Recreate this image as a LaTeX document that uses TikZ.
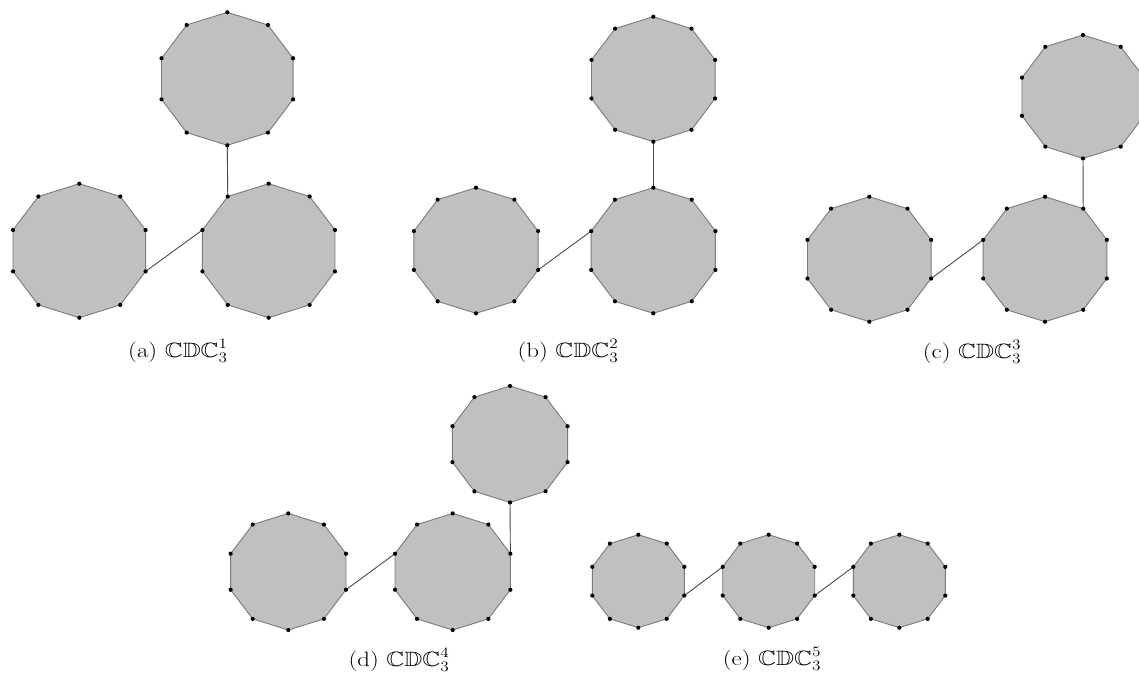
\documentclass[tikz,border=0pt]{standalone}
\usepackage{amssymb}
\usetikzlibrary{calc}
\definecolor{faceGray}{HTML}{C0C0C0}
\definecolor{rimGray}{HTML}{7A7A7A}
\definecolor{linkGray}{HTML}{4A4A4A}
\tikzset{
  polyface/.style={fill=faceGray, draw=rimGray, line width=0.9pt, line join=round},
  link/.style={draw=linkGray, line width=0.9pt},
  vdot/.style={fill=black},
  subcaption/.style={anchor=base, inner sep=0pt, font=\huge}
}
% \decagon{name}{cx}{cy}{R}: regular ten-gon, vertex name-0 on top,
% numbered counter-clockwise (name-5 at the bottom, name-2/name-7 on the sides)
\newcommand\decagon[4]{%
  \coordinate (#1) at (#2,#3);
  \foreach \k in {0,...,9}{%
    \coordinate (#1-\k) at ($(#1)+({1.04*#4*cos(90+36*\k)},{-#4*sin(90+36*\k)})$);
  }%
  \filldraw[polyface] (#1-0) \foreach \k in {1,...,9}{ -- (#1-\k)} -- cycle;
}
\newcommand\decadots[1]{%
  \foreach \k in {0,...,9}{\fill[vdot] (#1-\k) circle[radius=2.1pt];}%
}
\begin{document}
\begin{tikzpicture}[x=1pt,y=-1pt]
\useasboundingbox (0,0) rectangle (1139,680);
\fill[white] (0,0) rectangle (1139,680);

% (a)
\decagon{at}{227.3}{78.8}{66.5}
\decagon{al}{79.3}{250.7}{67}
\decagon{ar}{268.7}{250.7}{67}
\draw[link] (at-5) -- (ar-1);
\draw[link] (al-7) -- (ar-2);
\foreach \n in {at,al,ar}{\decadots{\n}}
\node[subcaption] (capa) at (178,357.7) {\scalebox{1.2}[1]{(a) $\mathbb{CDC}_3^1$}};

% (b)
\decagon{bt}{653.3}{79.2}{62.5}
\decagon{bl}{476}{250.5}{62.8}
\decagon{br}{653.3}{250.5}{62.8}
\draw[link] (bt-5) -- (br-0);
\draw[link] (bl-7) -- (br-2);
\foreach \n in {bt,bl,br}{\decadots{\n}}
\node[subcaption] (capb) at (568,357.7) {\scalebox{1.2}[1]{(b) $\mathbb{CDC}_3^2$}};

% (c)
\decagon{ct}{1083}{96.7}{61.7}
\decagon{cl}{869.3}{259.2}{62.5}
\decagon{cr}{1045}{259.2}{62.5}
\draw[link] (ct-5) -- (cr-9);
\draw[link] (cl-7) -- (cr-2);
\foreach \n in {ct,cl,cr}{\decadots{\n}}
\node[subcaption] (capc) at (972,358.5) {\scalebox{1.2}[1]{(c) $\mathbb{CDC}_3^3$}};

% (d)
\decagon{dt}{510}{444.2}{58.2}
\decagon{dl}{288.3}{571.7}{58.3}
\decagon{dr}{452.7}{571.7}{58.3}
\draw[link] (dt-5) -- (dr-8);
\draw[link] (dl-7) -- (dr-2);
\foreach \n in {dt,dl,dr}{\decadots{\n}}
\node[subcaption] (capd) at (399,666) {\scalebox{1.2}[1]{(d) $\mathbb{CDC}_3^4$}};

% (e)
\decagon{ea}{638.3}{581.2}{46.5}
\decagon{eb}{768.7}{581.2}{46.5}
\decagon{ec}{899.3}{581.2}{46.5}
\draw[link] (ea-7) -- (eb-2);
\draw[link] (eb-7) -- (ec-2);
\foreach \n in {ea,eb,ec}{\decadots{\n}}
\node[subcaption] (cape) at (772,665.5) {\scalebox{1.2}[1]{(e) $\mathbb{CDC}_3^5$}};
\end{tikzpicture}
\end{document}
